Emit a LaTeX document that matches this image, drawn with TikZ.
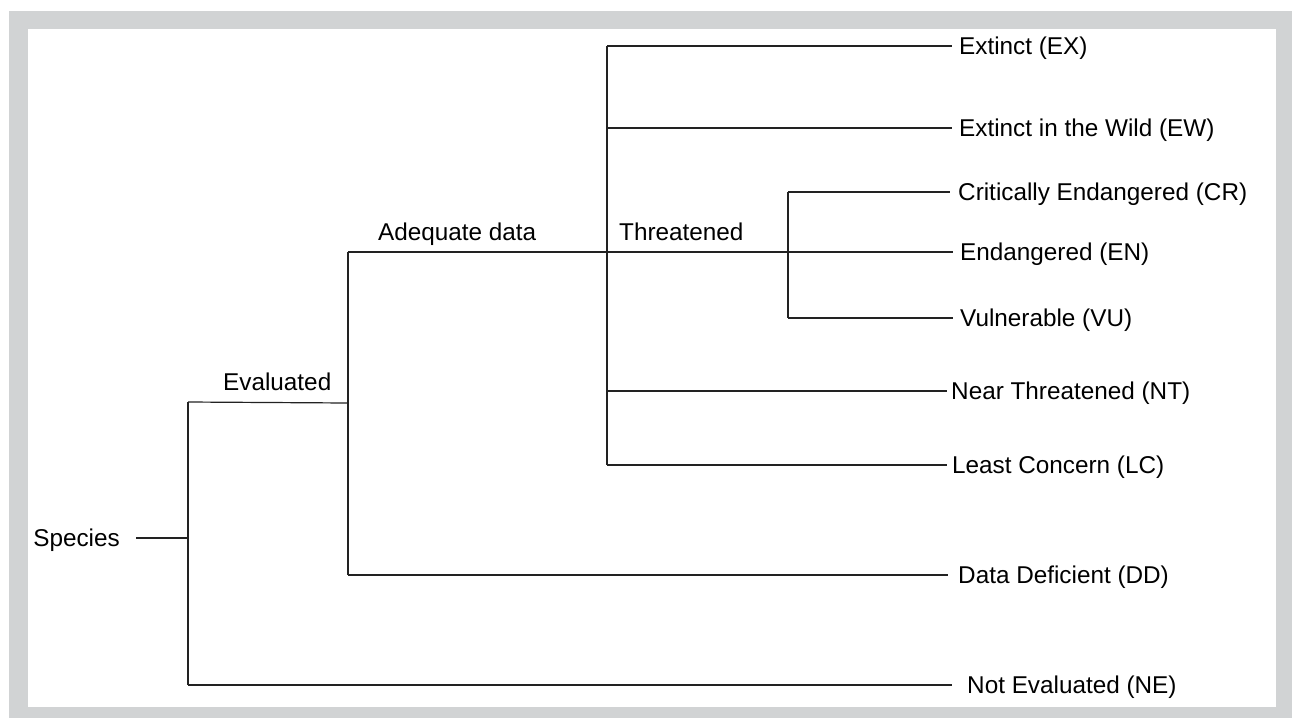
\documentclass[tikz,border=0pt]{standalone}
\usepackage{fontspec}
\setmainfont{Liberation Sans}
\definecolor{framegray}{HTML}{D1D3D4}
\definecolor{linecol}{HTML}{222222}
\begin{document}
\begin{tikzpicture}[x=1pt,y=-1pt,
  txt/.style={font=\fontsize{24.3}{29}\selectfont, text height=17.4pt, text depth=0pt, inner ysep=0pt},
  leaf/.style={txt, anchor=west},
  conn/.style={draw=linecol, line width=1.2pt},
  branchlab/.style={font=\fontsize{24.3}{29}\selectfont, anchor=base west, inner sep=0pt}]
\useasboundingbox (0,0) rectangle (1292,718);
\fill[framegray] (9,11) rectangle (1292,718);
\fill[white] (28,29) rectangle (1276,707);

% junction coordinates
\coordinate (jE) at (188,402);
\coordinate (jS) at (188,538);
\coordinate (jNE) at (188,685);
\coordinate (kE) at (348,403);
\coordinate (kA) at (348,252);
\coordinate (kD) at (348,575);
\coordinate (tTop) at (607,46);
\coordinate (tEW) at (607,128);
\coordinate (tNT) at (607,391);
\coordinate (tBot) at (607,465);
\coordinate (uTop) at (788,192);
\coordinate (uBot) at (788,318);

% labels
\node[txt, anchor=east, inner xsep=16pt] (species) at (136,538) {Species};
\node[leaf, inner xsep=7pt] (ex) at (952,46) {Extinct (EX)};
\node[leaf, inner xsep=7pt] (ew) at (952,128) {Extinct in the Wild (EW)};
\node[leaf, inner xsep=8pt] (cr) at (950,192) {Critically Endangered (CR)};
\node[leaf, inner xsep=7pt] (en) at (953,252) {Endangered (EN)};
\node[leaf, inner xsep=7pt] (vu) at (953,318) {Vulnerable (VU)};
\node[leaf, inner xsep=4pt] (nt) at (947,391) {Near Threatened (NT)};
\node[leaf, inner xsep=5pt] (lc) at (947,465) {Least Concern (LC)};
\node[leaf, inner xsep=10pt] (dd) at (948,575) {Data Deficient (DD)};
\node[leaf, inner xsep=15pt] (ne) at (952,685) {Not Evaluated (NE)};

\node[branchlab] (evl) at (223,390) {Evaluated};
\node[branchlab] (adl) at (378,240) {Adequate data};
\node[branchlab] (thl) at (619,240) {Threatened};

% connectors
\draw[conn] (species.east) -- (jS);
\draw[conn] (jE) -- (jNE);
\draw[conn] (jE) -- (kE);
\draw[conn] (kA) -- (kD);
\draw[conn] (jNE) -- (ne.west);
\draw[conn] (kD) -- (dd.west);
\draw[conn] (kA) -- (en.west);
\draw[conn] (tTop) -- (tBot);
\draw[conn] (tTop) -- (ex.west);
\draw[conn] (tEW) -- (ew.west);
\draw[conn] (tNT) -- (nt.west);
\draw[conn] (tBot) -- (lc.west);
\draw[conn] (uTop) -- (uBot);
\draw[conn] (uTop) -- (cr.west);
\draw[conn] (uBot) -- (vu.west);
\end{tikzpicture}
\end{document}
